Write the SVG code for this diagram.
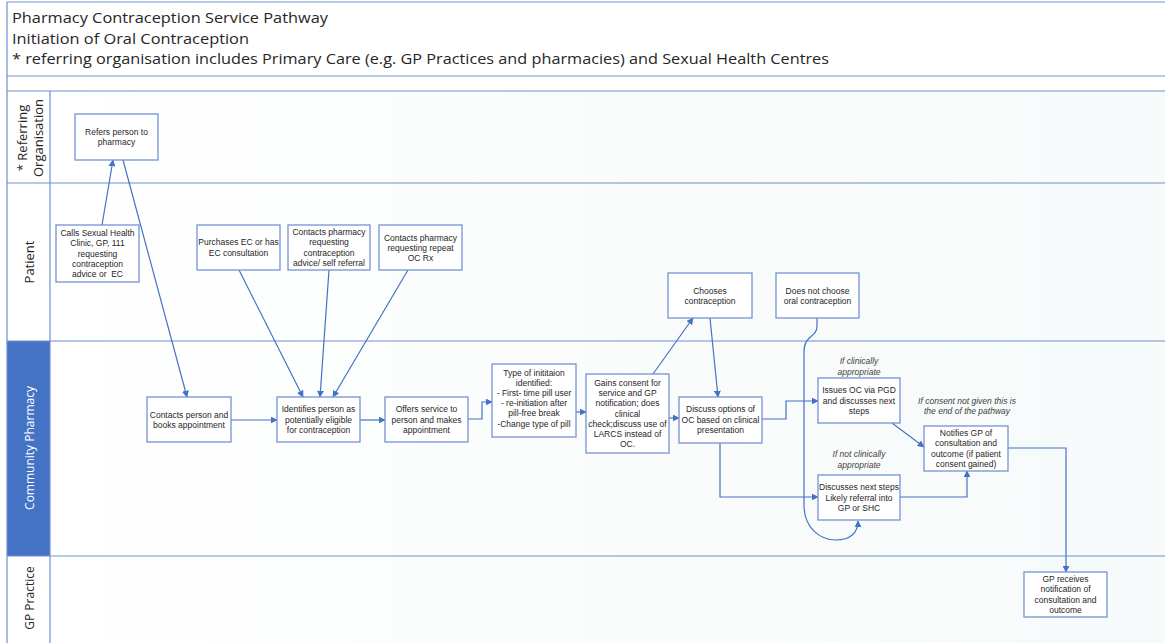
<svg xmlns="http://www.w3.org/2000/svg" width="1165" height="643" viewBox="0 0 1165 643">
<defs>
<marker id="ah" viewBox="0 0 10 10" refX="9" refY="5" markerWidth="7" markerHeight="7" markerUnits="userSpaceOnUse" orient="auto">
<path d="M0,0 L10,5 L0,10 z" fill="#4472C4"/>
</marker>
<linearGradient id="bg" x1="0" y1="0" x2="1" y2="0">
<stop offset="0" stop-color="#ffffff"/>
<stop offset="0.5" stop-color="#fafcfc"/>
<stop offset="1" stop-color="#f7fafa"/>
</linearGradient>
</defs>
<style>
.frame{stroke:#6f8fd0;stroke-width:1.2;fill:none}
.node rect{fill:#ffffff;stroke:#7393d6;stroke-width:1.3}
.node text,.lbl{font-family:"Liberation Sans",Arial,sans-serif;font-size:8.5px;fill:#262626;text-anchor:middle;dominant-baseline:central}
.lbl{font-style:italic;fill:#404040}
.hdr{font-family:"Open Sans","Liberation Sans",sans-serif;font-size:15px;fill:#262626}
.lane{font-family:"Open Sans","Liberation Sans",sans-serif;font-size:13px;fill:#262626;text-anchor:middle;dominant-baseline:central}
.conn path,.conn line{stroke:#4472C4;stroke-width:1.2;fill:none;marker-end:url(#ah)}
</style>
<rect x="0" y="0" width="1165" height="643" fill="#ffffff"/>
<rect x="50" y="91" width="1115" height="552" fill="url(#bg)"/>
<g id="header">
<text class="hdr" x="12" y="23" textLength="316" lengthAdjust="spacingAndGlyphs">Pharmacy Contraception Service Pathway</text>
<text class="hdr" x="12" y="44" textLength="237" lengthAdjust="spacingAndGlyphs">Initiation of Oral Contraception</text>
<text class="hdr" x="12" y="64" textLength="817" lengthAdjust="spacingAndGlyphs">* referring organisation includes Primary Care (e.g. GP Practices and pharmacies) and Sexual Health Centres</text>
</g>
<g id="lanes">
<rect x="7" y="341" width="43" height="215" fill="#4472C4"/>
<line class="frame" x1="7" y1="2" x2="1165" y2="2"/>
<line class="frame" x1="7" y1="2" x2="7" y2="643"/>
<line class="frame" x1="7" y1="76" x2="1165" y2="76"/>
<line class="frame" x1="7" y1="91" x2="1165" y2="91"/>
<line class="frame" x1="7" y1="183" x2="1165" y2="183"/>
<line class="frame" x1="7" y1="341" x2="1165" y2="341"/>
<line class="frame" x1="7" y1="556" x2="1165" y2="556"/>
<line class="frame" x1="50" y1="91" x2="50" y2="643"/>
<text class="lane" transform="translate(22,138) rotate(-90)">* Referring</text>
<text class="lane" transform="translate(38,138) rotate(-90)">Organisation</text>
<text class="lane" transform="translate(29,262) rotate(-90)">Patient</text>
<text class="lane" transform="translate(29,448) rotate(-90)" style="fill:#ffffff;font-size:12px">Community Pharmacy</text>
<text class="lane" transform="translate(29,598) rotate(-90)" style="font-size:12px">GP Practice</text>
</g>
<g id="connectors" class="conn">
<line x1="102" y1="225" x2="113" y2="160"/>
<line x1="123" y1="160" x2="187" y2="397"/>
<line x1="239" y1="270" x2="303" y2="397"/>
<line x1="329" y1="270" x2="320" y2="397"/>
<line x1="408" y1="270" x2="333" y2="397"/>
<line x1="231" y1="420" x2="277" y2="420"/>
<line x1="360" y1="420" x2="385" y2="420"/>
<path d="M468,419 L482,419 L482,402 L492,402"/>
<line x1="576" y1="412" x2="586" y2="412"/>
<line x1="669" y1="418" x2="679" y2="418"/>
<line x1="653" y1="374" x2="693" y2="318"/>
<line x1="710" y1="318" x2="718" y2="397"/>
<path d="M762,419 L786,419 L786,401 L818,401"/>
<path d="M720,443 L720,497 L818,497"/>
<path d="M817,318 L817,326 C817,338 804,334 804,352 L804,505 C804,528 820,540 836,540 C850,540 858,533 858,521"/>
<line x1="892" y1="423" x2="924" y2="447"/>
<path d="M900,497 L967,497 L967,471"/>
<path d="M1008,448 L1066,448 L1066,572"/>
</g>
<g id="n-refers" class="node"><rect x="75" y="114" width="83" height="46"/>
<text x="116.5" y="132">Refers person to</text><text x="116.5" y="142">pharmacy</text></g>
<g id="n-calls" class="node"><rect x="56" y="225" width="83" height="57"/>
<text x="97.5" y="233">Calls Sexual Health</text><text x="97.5" y="243.3">Clinic, GP, 111</text><text x="97.5" y="253.5">requesting</text><text x="97.5" y="263.7">contraception</text><text x="97.5" y="274" xml:space="preserve">advice or  EC</text></g>
<g id="n-purchases" class="node"><rect x="197" y="225" width="83" height="45"/>
<text x="238.5" y="242">Purchases EC or has</text><text x="238.5" y="252.5">EC consultation</text></g>
<g id="n-contacts-advice" class="node"><rect x="288" y="225" width="82" height="45"/>
<text x="329" y="232">Contacts pharmacy</text><text x="329" y="242.3">requesting</text><text x="329" y="252.6">contraception</text><text x="329" y="263">advice/ self referral</text></g>
<g id="n-contacts-repeat" class="node"><rect x="379" y="225" width="83" height="45"/>
<text x="420.5" y="238">Contacts pharmacy</text><text x="420.5" y="248">requesting repeat</text><text x="420.5" y="258">OC Rx</text></g>
<g id="n-contacts-person" class="node"><rect x="147" y="397" width="84" height="45"/>
<text x="189" y="414.5">Contacts person and</text><text x="189" y="424.5">books appointment</text></g>
<g id="n-identifies" class="node"><rect x="277" y="397" width="83" height="45"/>
<text x="318.5" y="409">Identifies person as</text><text x="318.5" y="419.5">potentially eligible</text><text x="318.5" y="430">for contraception</text></g>
<g id="n-offers" class="node"><rect x="385" y="397" width="83" height="45"/>
<text x="426.5" y="409">Offers service to</text><text x="426.5" y="419.5">person and makes</text><text x="426.5" y="430">appointment</text></g>
<g id="n-type" class="node"><rect x="492" y="364" width="84" height="73"/>
<text x="534" y="372.5">Type of inititaion</text><text x="534" y="382.7">identified:</text><text x="534" y="392.9">- First- time pill user</text><text x="534" y="403.1">- re-initiation after</text><text x="534" y="413.3">pill-free break</text><text x="534" y="423.5">-Change type of pill</text></g>
<g id="n-gains" class="node"><rect x="586" y="374" width="83" height="79"/>
<text x="627.5" y="383">Gains consent for</text><text x="627.5" y="393.2">service and GP</text><text x="627.5" y="403.4">notification; does</text><text x="627.5" y="413.6">clinical</text><text x="627.5" y="423.8">check;discuss use of</text><text x="627.5" y="434">LARCS instead of</text><text x="627.5" y="444.2">OC.</text></g>
<g id="n-chooses" class="node"><rect x="668" y="273" width="84" height="45"/>
<text x="710" y="291">Chooses</text><text x="710" y="301">contraception</text></g>
<g id="n-notchoose" class="node"><rect x="776" y="273" width="83" height="45"/>
<text x="817.5" y="291">Does not choose</text><text x="817.5" y="301">oral contraception</text></g>
<g id="n-discuss" class="node"><rect x="679" y="397" width="83" height="46"/>
<text x="720.5" y="409">Discuss options of</text><text x="720.5" y="419.5">OC based on clinical</text><text x="720.5" y="430">presentation</text></g>
<g id="n-issues" class="node"><rect x="818" y="378" width="82" height="45"/>
<text x="859" y="390">Issues OC via PGD</text><text x="859" y="400.5">and discusses next</text><text x="859" y="411">steps</text></g>
<g id="n-discusses" class="node"><rect x="818" y="475" width="82" height="45"/>
<text x="859" y="487">Discusses next steps</text><text x="859" y="497.5">Likely referral into</text><text x="859" y="508">GP or SHC</text></g>
<g id="n-notifies" class="node"><rect x="924" y="426" width="84" height="45"/>
<text x="966" y="433">Notifies GP of</text><text x="966" y="443.3">consultation and</text><text x="966" y="453.6">outcome (if patient</text><text x="966" y="464">consent gained)</text></g>
<g id="n-gp-receives" class="node"><rect x="1024" y="572" width="83" height="45"/>
<text x="1065.5" y="579">GP receives</text><text x="1065.5" y="589.3">notification of</text><text x="1065.5" y="599.6">consultation and</text><text x="1065.5" y="610">outcome</text></g>
<g id="labels">
<text class="lbl" x="859" y="361">If clinically</text><text class="lbl" x="859" y="372">appropriate</text>
<text class="lbl" x="967" y="401">If consent not given this is</text><text class="lbl" x="967" y="411">the end of the pathway</text>
<text class="lbl" x="859" y="454">If not clinically</text><text class="lbl" x="859" y="464.5">appropriate</text>
</g>
</svg>
